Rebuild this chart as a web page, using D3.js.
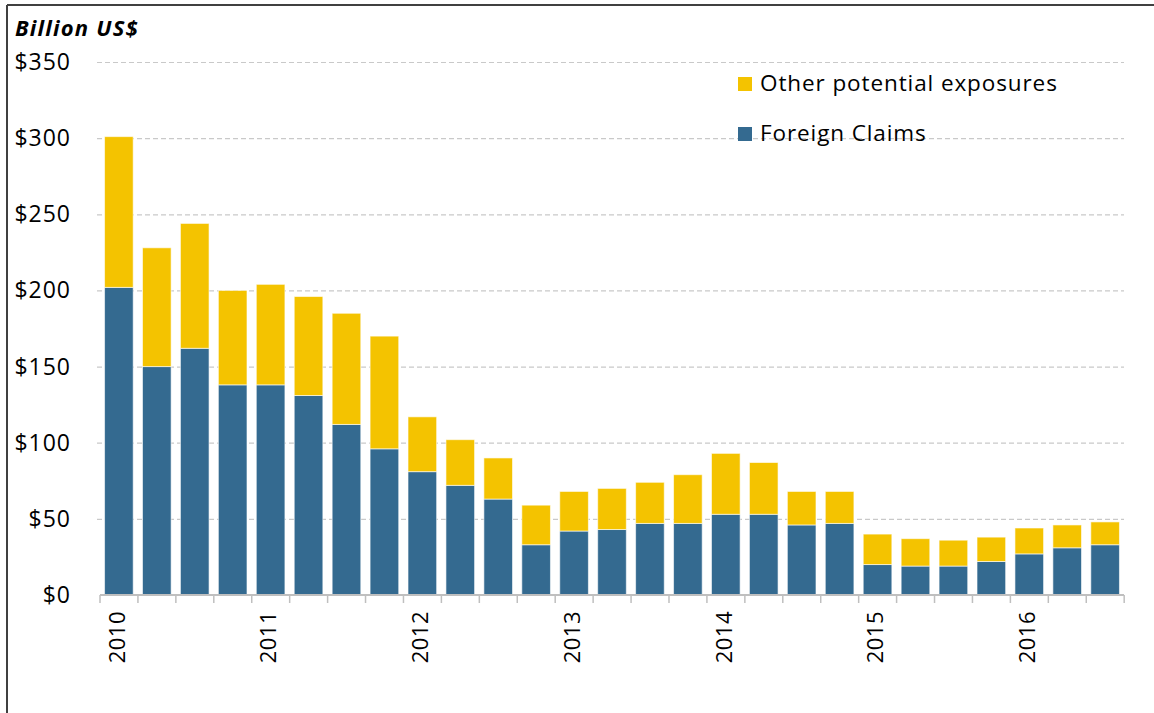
<!DOCTYPE html>
<html>
<head>
<meta charset="utf-8">
<script src="https://cdnjs.cloudflare.com/ajax/libs/d3/7.8.5/d3.min.js"></script>
<style>
  html, body { margin: 0; padding: 0; background: #fff; }
  svg { display: block; }
</style>
</head>
<body>
<svg id="chart"></svg>
<script>
// quarterly data, 2010 Q1 .. 2016 Q3
const years = ["2010", "2011", "2012", "2013", "2014", "2015", "2016"];
const quarters = ["Q1", "Q2", "Q3", "Q4"];
const categories = [];
years.forEach((y) => quarters.forEach((q) => categories.push(y + " " + q)));
categories.splice(27);

const foreignClaims = [202, 150, 162, 138, 138, 131, 112, 96, 81, 72, 63, 33, 42, 43,
  47, 47, 53, 53, 46, 47, 20, 19, 19, 22, 27, 31, 33];
const otherExposures = [99, 78, 82, 62, 66, 65, 73, 74, 36, 30, 27, 26, 26, 27,
  27, 32, 40, 34, 22, 21, 20, 18, 17, 16, 17, 15, 15];
const yTicks = [0, 50, 100, 150, 200, 250, 300, 350];

const seriesNames = ["Foreign Claims", "Other potential exposures"];
const colors = { "Foreign Claims": "#346a90", "Other potential exposures": "#f4c300" };

const width = 1154;
const height = 713;
const margin = { top: 62, bottom: 118, left: 100, right: 30 };
const font = "'Open Sans', sans-serif";

const svg = d3.select("#chart").attr("width", width).attr("height", height);

const xScale = d3.scaleBand().domain(categories).range([margin.left, 1124]).paddingInner(0.245).paddingOuter(0.12);
const yScale = d3.scaleLinear().domain([0, 350]).range([height - margin.bottom, margin.top]);

const rows = categories.map((c, i) => ({
  cat: c,
  "Foreign Claims": foreignClaims[i],
  "Other potential exposures": otherExposures[i],
}));
const stacked = d3.stack().keys(seriesNames)(rows);

// frame (only top and left edges are in the shot)
svg.append("line").attr("x1", 7).attr("y1", 5).attr("x2", width).attr("y2", 5)
  .attr("stroke", "#404040").attr("stroke-width", 2);
svg.append("line").attr("x1", 7).attr("y1", 5).attr("x2", 7).attr("y2", height)
  .attr("stroke", "#404040").attr("stroke-width", 2);

// gridlines
svg.append("g")
  .attr("class", "grid")
  .attr("transform", `translate(${margin.left - 3},0)`)
  .call(d3.axisLeft(yScale).tickValues(yTicks.slice(1)).tickSize(-(1124 - margin.left + 3)).tickFormat(""))
  .call((g) => g.select(".domain").remove())
  .call((g) => g.selectAll("line").attr("stroke", "#c9c9c9").attr("stroke-width", 1.2).attr("stroke-dasharray", "5,3"));

// y labels
svg.append("g")
  .selectAll("text")
  .data(yTicks)
  .join("text")
  .attr("x", 71)
  .attr("y", (d) => yScale(d))
  .attr("dy", "0.35em")
  .attr("text-anchor", "end")
  .attr("font-family", font)
  .attr("font-size", 23)
  .attr("letter-spacing", 1)
  .attr("fill", "#000")
  .text((d) => "$" + d);

// bars
svg.append("g")
  .selectAll("g")
  .data(stacked)
  .join("g")
  .attr("fill", (s) => colors[s.key])
  .selectAll("rect")
  .data((s) => s)
  .join("rect")
  .attr("x", (d) => xScale(d.data.cat))
  .attr("y", (d) => yScale(d[1]))
  .attr("width", xScale.bandwidth())
  .attr("height", (d) => yScale(d[0]) - yScale(d[1]))
  .attr("stroke", "#ffffff")
  .attr("stroke-opacity", 0.6)
  .attr("stroke-width", 1);

// x axis with ticks at category boundaries
const step = xScale.step();
const x0 = xScale.range()[0];
const boundaries = d3.range(categories.length + 1).map((i) => x0 + i * step);
const axisG = svg.append("g");
axisG.append("line")
  .attr("x1", x0).attr("x2", xScale.range()[1])
  .attr("y1", yScale(0)).attr("y2", yScale(0))
  .attr("stroke", "#bfbfbf").attr("stroke-width", 2);
axisG.selectAll(".tick")
  .data(boundaries)
  .join("line")
  .attr("class", "tick")
  .attr("x1", (d) => d).attr("x2", (d) => d)
  .attr("y1", yScale(0)).attr("y2", yScale(0) + 8)
  .attr("stroke", "#bfbfbf").attr("stroke-width", 1.5);

// year labels, rotated, on each Q1
axisG.selectAll(".yearLabel")
  .data(years)
  .join("text")
  .attr("class", "yearLabel")
  .attr("transform", (d) => `translate(${xScale(d + " Q1") + xScale.bandwidth() / 2 - 2},${yScale(0) + 16}) rotate(-90)`)
  .attr("dy", "0.35em")
  .attr("text-anchor", "end")
  .attr("font-family", font)
  .attr("font-size", 22)
  .attr("letter-spacing", 0.5)
  .attr("fill", "#000")
  .text((d) => d);

// unit title
svg.append("text")
  .attr("x", 15)
  .attr("y", 36)
  .attr("font-family", font)
  .attr("font-weight", "bold")
  .attr("font-style", "italic")
  .attr("font-size", 22)
  .attr("letter-spacing", 1.2)
  .attr("fill", "#000")
  .text("Billion US$");

// legend
const legendItems = ["Other potential exposures", "Foreign Claims"];
const legend = svg.append("g")
  .selectAll("g")
  .data(legendItems)
  .join("g")
  .attr("transform", (d, i) => `translate(738,${77 + i * 50})`);
legend.append("rect")
  .attr("width", 14).attr("height", 14)
  .attr("fill", (d) => colors[d]);
legend.append("text")
  .attr("x", 22)
  .attr("y", 14)
  .attr("font-family", font)
  .attr("font-size", 22.5)
  .attr("letter-spacing", 0.9)
  .attr("fill", "#000")
  .text((d) => d);
</script>
</body>
</html>
